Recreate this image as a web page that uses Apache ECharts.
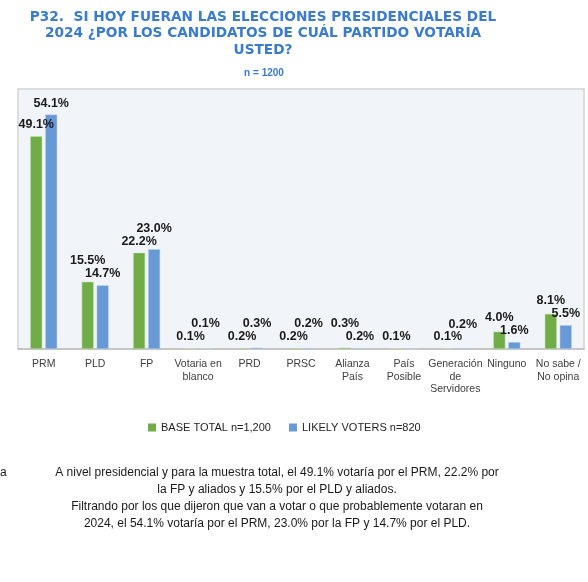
<!DOCTYPE html>
<html>
<head>
<meta charset="utf-8">
<script src="https://cdn.jsdelivr.net/npm/echarts@6/dist/echarts.min.js"></script>
<style>
	html, body { margin: 0; padding: 0; background: #fff; }
	#main { width: 588px; height: 582px; }
</style>
</head>
<body>
<div id="main"></div>
<script>
var categories = ['PRM', 'PLD', 'FP', 'Votaria en\nblanco', 'PRD', 'PRSC', 'Alianza\nPaís',
	'País\nPosible', 'Generación\nde\nServidores', 'Ninguno', 'No sabe /\nNo opina'];
var baseTotal = [49.1, 15.5, 22.2, 0.1, 0.2, 0.2, 0.3, 0.1, 0.1, 4.0, 8.1];
var likelyVoters = [54.1, 14.7, 23.0, 0.1, 0.3, 0.2, 0.2, 0, 0.2, 1.6, 5.5];
var seriesNames = ['BASE TOTAL n=1,200', 'LIKELY VOTERS n=820'];
var yTicks = [0, 60];

var titleText = 'P32.  SI HOY FUERAN LAS ELECCIONES PRESIDENCIALES DEL\n2024 ¿POR LOS CANDIDATOS DE CUÁL PARTIDO VOTARÍA\nUSTED?';
var noteText = 'A nivel presidencial y para la muestra total, el 49.1% votaría por el PRM, 22.2% por\n' +
	'la FP y aliados y 15.5% por el PLD y aliados.\n' +
	'Filtrando por los que dijeron que van a votar o que probablemente votaran en\n' +
	'2024, el 54.1% votaría por el PRM, 23.0% por la FP y 14.7% por el PLD.';

var myChart = echarts.init(document.getElementById('main'));
var values = [baseTotal, likelyVoters];
var font = '"Liberation Sans", Arial, sans-serif';

// when the two labels of a category collide, lift the one of the taller bar
function stagger(p) {
	var i = p.dataIndex, s = p.seriesIndex;
	var mine = values[s][i], other = values[1 - s][i];
	if (!other) return {};
	var upper = mine > other || (mine === other && s === 1);
	if (!upper) return {};
	var myTop = p.labelRect.y;
	var otherTop = myTop + (myChart.convertToPixel({yAxisIndex: 0}, other) - myChart.convertToPixel({yAxisIndex: 0}, mine));
	if (Math.abs(otherTop - myTop) >= 13) return {};
	return {dy: (otherTop - 13) - myTop};
}

function labelOf(params) {
	return params.value > 0 ? params.value.toFixed(1) + '%' : '';
}

var option = {
	animation: false,
	textStyle: {fontFamily: font},
	graphic: [
		{
			type: 'text', x: 263, y: 9,
			style: {
				text: titleText, textAlign: 'center',
				font: 'bold 13.7px "DejaVu Sans", sans-serif', fill: '#3a7bd0', lineHeight: 16.5
			}
		},
		{
			type: 'text', x: 264, y: 68,
			style: {text: 'n = 1200', textAlign: 'center', font: 'bold 10px ' + font, fill: '#3a7bd0'}
		},
		{
			type: 'text', x: 277, y: 464,
			style: {text: noteText, textAlign: 'center', font: '12px ' + font, fill: '#1a1a1a', lineHeight: 17}
		},
		{
			type: 'text', x: 0, y: 464,
			style: {text: 'a', font: '12px ' + font, fill: '#1a1a1a', lineHeight: 17}
		}
	],
	legend: {
		data: seriesNames,
		left: 143,
		top: 417,
		icon: 'rect',
		itemWidth: 8,
		itemHeight: 8,
		itemGap: 18,
		itemStyle: {borderWidth: 0},
		textStyle: {fontSize: 11, color: '#1f1f1f', fontFamily: font}
	},
	grid: {
		left: 18,
		right: 4,
		top: 89,
		bottom: 233,
		show: true,
		backgroundColor: '#f1f4f9',
		borderColor: '#d3d3d3',
		borderWidth: 1.5
	},
	xAxis: {
		type: 'category',
		data: categories,
		axisTick: {show: false},
		axisLine: {lineStyle: {color: '#bfbfbf', width: 1.5}},
		axisLabel: {interval: 0, margin: 9, fontSize: 10.5, lineHeight: 12.5, color: '#404040', fontFamily: font}
	},
	yAxis: {
		type: 'value',
		min: yTicks[0],
		max: yTicks[1],
		show: false,
		splitLine: {show: false}
	},
	series: [
		{
			name: seriesNames[0],
			type: 'bar',
			data: baseTotal,
			barWidth: 12,
			barGap: '25%',
			itemStyle: {color: '#70ad47', borderColor: '#c5dfb3', borderWidth: 0.5},
			label: {
				show: true, position: 'top', distance: 5, formatter: labelOf,
				fontSize: 12.5, fontWeight: 'bold', color: '#1a1a1a', fontFamily: font
			},
			labelLayout: stagger
		},
		{
			name: seriesNames[1],
			type: 'bar',
			data: likelyVoters,
			barWidth: 12,
			itemStyle: {color: '#6699d5', borderColor: '#c3d6ef', borderWidth: 0.5},
			label: {
				show: true, position: 'top', distance: 5, formatter: labelOf,
				fontSize: 12.5, fontWeight: 'bold', color: '#1a1a1a', fontFamily: font
			},
			labelLayout: stagger
		}
	]
};
myChart.setOption(option);
</script>
</body>
</html>
